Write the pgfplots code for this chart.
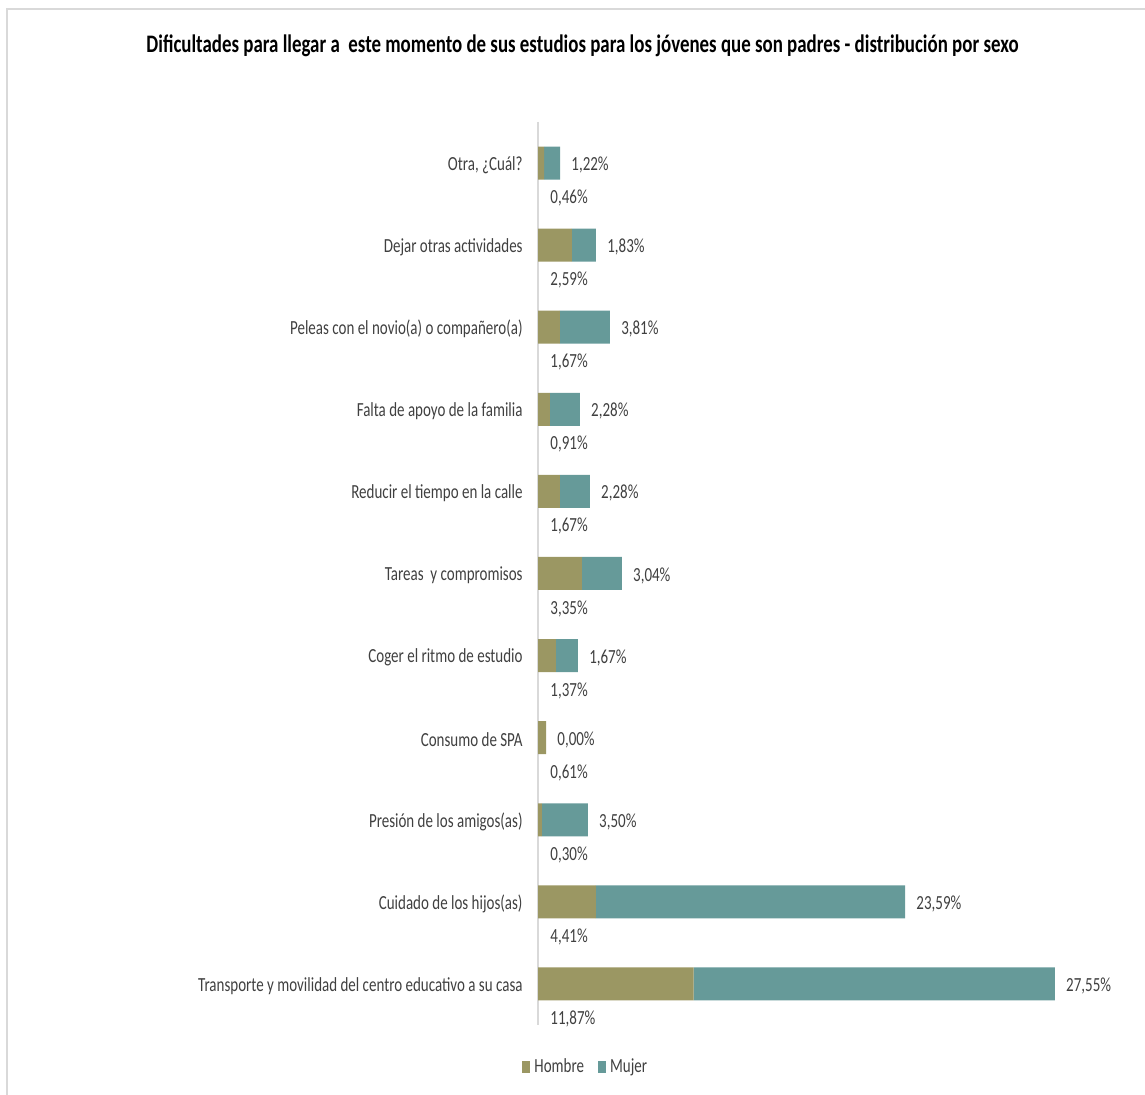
\documentclass[border=0pt]{standalone}
\usepackage{pgfplots}
\pgfplotsset{compat=1.18}
\usepackage{pgfplotstable}
\usepackage{fontspec}
\setmainfont{Carlito}[FakeStretch=0.75]
\definecolor{hombre}{RGB}{155,151,99}
\definecolor{mujer}{RGB}{102,154,153}
\definecolor{txt}{RGB}{64,64,64}
\definecolor{framec}{RGB}{217,217,217}
\pgfplotstableread{
row h m
0 0.46 1.22
1 2.59 1.83
2 1.67 3.81
3 0.91 2.28
4 1.67 2.28
5 3.35 3.04
6 1.37 1.67
7 0.61 0.00
8 0.30 3.50
9 4.41 23.59
10 11.87 27.55
}\datatable
\pgfplotsset{
  /pgf/number format/assume math mode=true,
  myaxis/.style={
    scale only axis, width=262.2pt, height=451.5pt,
    at={(269pt,35pt)}, anchor=south west,
    xmin=0, xmax=40, ymin=-0.5, ymax=10.5, y dir=reverse,
  },
  pctlabel/.style={nodes near coords={\pgfmathprintnumber[fixed,fixed zerofill,precision=2,use comma]{\pgfplotspointmeta}\%}},
}
\begin{document}
\begin{tikzpicture}[x=1pt,y=1pt]
\useasboundingbox (0,0) rectangle (572.5,547.5);
\draw[framec, line width=1pt] (3.5,0) -- (3.5,543) -- (572.5,543);
\node[font=\bfseries\fontsize{12.6}{15}\selectfont, anchor=center] at (291.25,524.5) {Dificultades para llegar a~ este momento de sus estudios para los jóvenes que son padres - distribución por sexo};
\begin{axis}[myaxis,
  xbar stacked, bar width=16.5pt,
  hide x axis, axis y line*=left,
  y axis line style={framec, line width=0.75pt},
  ytick={0,...,10},
  yticklabels={{Otra, ¿Cuál?},{Dejar otras actividades},{Peleas con el novio(a) o compañero(a)},{Falta de apoyo de la familia},{Reducir el tiempo en la calle},{Tareas\ \ y compromisos},{Coger el ritmo de estudio},{Consumo de SPA},{Presión de los amigos(as)},{Cuidado de los hijos(as)},{Transporte y movilidad del centro educativo a su casa}},
  major tick length=0pt, ytick style={draw=none},
  yticklabel style={font=\fontsize{10}{12}\selectfont, text=txt, inner sep=0pt, anchor=east, xshift=-7.5pt, yshift=-1pt},
  legend columns=2,
  legend style={draw=none, fill=none, at={(0.093,-0.0465)}, anchor=center,
    font=\fontsize{10}{12}\selectfont, text=txt,
    /tikz/every even column/.append style={column sep=5pt}},
  legend image code/.code={\fill[#1] (0pt,-3pt) rectangle (4pt,3pt);},
  clip=false,
]
\addplot[fill=hombre, draw=none] table[x=h, y=row]{\datatable};
\addlegendentry{Hombre}
\addplot[fill=mujer, draw=none] table[x=m, y=row]{\datatable};
\addlegendentry{Mujer}
\end{axis}
\begin{axis}[myaxis, hide axis, clip=false]
\addplot[draw=none, mark=none, pctlabel, point meta=explicit,
  nodes near coords style={anchor=west, inner sep=0pt, yshift=-17.5pt, text=txt, font=\fontsize{10}{12}\selectfont}]
  table[x expr=0.92, y=row, meta=h]{\datatable};
\addplot[draw=none, mark=none, pctlabel, point meta=explicit,
  nodes near coords style={anchor=west, inner sep=0pt, xshift=5.5pt, yshift=-1pt, text=txt, font=\fontsize{10}{12}\selectfont}]
  table[x expr=\thisrow{h}+\thisrow{m}, y=row, meta=m]{\datatable};
\end{axis}
\end{tikzpicture}
\end{document}
